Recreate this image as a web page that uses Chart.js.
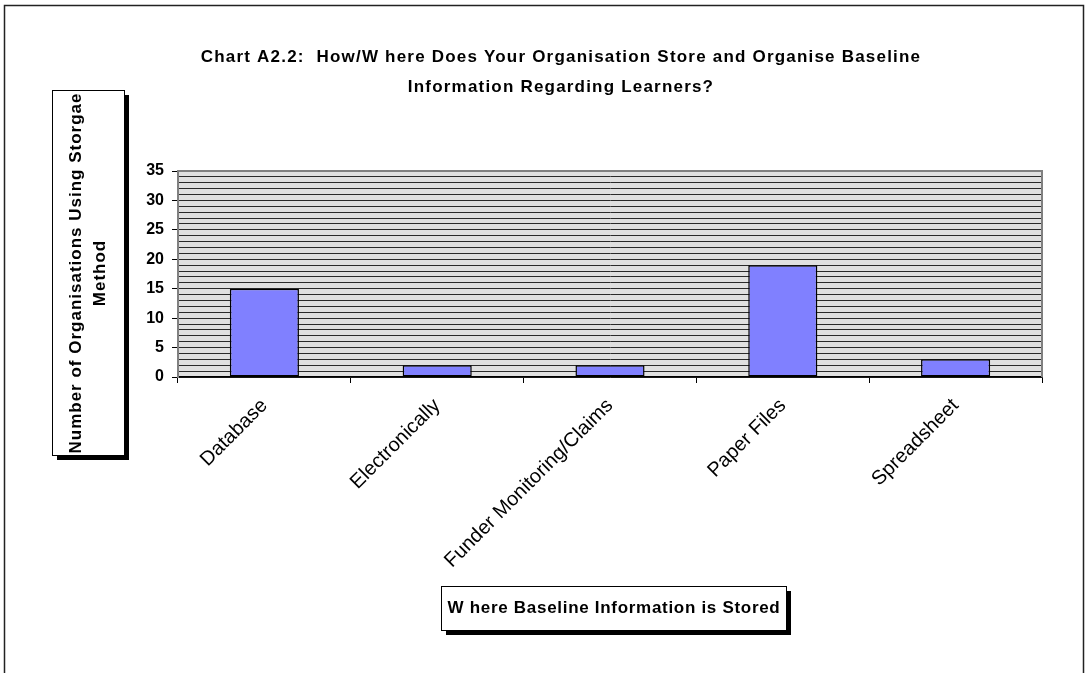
<!DOCTYPE html>
<html>
<head>
<meta charset="utf-8">
<script src="https://cdn.jsdelivr.net/npm/chart.js@4/dist/chart.umd.min.js"></script>
<style>
  body { margin: 0; background: #fff; }
  canvas { display: block; }
</style>
</head>
<body>
<canvas id="myChart" width="1086" height="673"></canvas>
<script>
var categories = ["Database", "Electronically", "Funder Monitoring/Claims", "Paper Files", "Spreadsheet"];
var counts = [15, 2, 2, 19, 3];
var yTicks = [0, 5, 10, 15, 20, 25, 30, 35];

var titleLines = ["Chart A2.2:  How/W here Does Your Organisation Store and Organise Baseline",
                  "Information Regarding Learners?"];
var yTitleLines = ["Number of Organisations Using Storgae", "Method"];
var xTitle = "W here Baseline Information is Stored";

var FONT = "Arial, 'Liberation Sans', sans-serif";

// box with a solid black drop shadow, like the old office charts
function shadowBox(ctx, x, y, w, h) {
  ctx.fillStyle = "#000";
  ctx.fillRect(x + 5, y + 5, w, h);
  ctx.fillStyle = "#fff";
  ctx.fillRect(x, y, w, h);
  ctx.strokeStyle = "#000";
  ctx.lineWidth = 1;
  ctx.strokeRect(x + 0.5, y + 0.5, w, h);
}

var decorations = {
  id: "decorations",
  beforeDraw: function(chart) {
    var ctx = chart.ctx, a = chart.chartArea;
    ctx.save();
    ctx.fillStyle = "#fff";
    ctx.fillRect(0, 0, chart.width, chart.height);
    ctx.fillStyle = "#e0e0e0";
    ctx.fillRect(a.left, a.top, a.right - a.left, a.bottom - a.top);
    ctx.restore();
  },
  afterDatasetsDraw: function(chart) {
    var ctx = chart.ctx, a = chart.chartArea;
    ctx.save();
    // grey frame on top and right of the plot
    ctx.strokeStyle = "#808080";
    ctx.lineWidth = 2;
    ctx.beginPath();
    ctx.moveTo(a.left, a.top);
    ctx.lineTo(a.right, a.top);
    ctx.lineTo(a.right, a.bottom);
    ctx.stroke();
    ctx.restore();
  },
  afterDraw: function(chart) {
    var ctx = chart.ctx;
    ctx.save();

    // outer frame
    ctx.strokeStyle = "#222";
    ctx.lineWidth = 1.5;
    ctx.beginPath();
    ctx.moveTo(4.5, chart.height);
    ctx.lineTo(4.5, 5.5);
    ctx.lineTo(1083.5, 5.5);
    ctx.lineTo(1083.5, chart.height);
    ctx.stroke();

    // chart title
    ctx.fillStyle = "#000";
    ctx.font = "bold 17px " + FONT;
    ctx.textAlign = "center";
    ctx.textBaseline = "middle";
    ctx.letterSpacing = "1.2px";
    ctx.fillText(titleLines[0], 561, 57);
    ctx.fillText(titleLines[1], 561, 87);

    // y axis title
    shadowBox(ctx, 52, 90, 72, 365);
    ctx.save();
    ctx.translate(88, 273);
    ctx.rotate(-Math.PI / 2);
    ctx.fillStyle = "#000";
    ctx.letterSpacing = "1px";
    ctx.fillText(yTitleLines[0], 0, -12);
    ctx.fillText(yTitleLines[1], 0, 12);
    ctx.restore();

    // x axis title
    shadowBox(ctx, 441, 586, 345, 44);
    ctx.fillStyle = "#000";
    ctx.letterSpacing = "0.7px";
    ctx.fillText(xTitle, 614, 608);

    ctx.restore();
  }
};

var ctx = document.getElementById("myChart").getContext("2d");
var myChart = new Chart(ctx, {
  type: "bar",
  data: {
    labels: categories,
    datasets: [{
      data: counts,
      backgroundColor: "#8080ff",
      borderColor: "#000",
      borderWidth: 1.5,
      borderSkipped: false,
      barPercentage: 0.4,
      categoryPercentage: 1
    }]
  },
  options: {
    responsive: false,
    animation: false,
    layout: { padding: { top: 171, right: 44, left: 0, bottom: 0 } },
    plugins: {
      legend: { display: false },
      title: { display: false },
      tooltip: { enabled: false }
    },
    scales: {
      x: {
        afterFit: function(scale) { scale.height = 296; },
        grid: {
          offset: true,
          drawOnChartArea: false,
          tickLength: 6,
          color: "#000"
        },
        border: { color: "#000", width: 1.5 },
        ticks: {
          minRotation: 45,
          maxRotation: 45,
          padding: 11,
          color: "#000",
          font: { family: FONT, size: 20 }
        }
      },
      y: {
        min: yTicks[0],
        max: yTicks[yTicks.length - 1],
        afterFit: function(scale) { scale.width = 178; },
        grid: {
          color: "#2a2a2a",
          lineWidth: 1,
          tickLength: 6,
          tickColor: function(c) {
            return c.tick && yTicks.indexOf(c.tick.value) >= 0 ? "#000" : "rgba(0,0,0,0)";
          }
        },
        border: { color: "#808080", width: 2 },
        ticks: {
          stepSize: 1,
          autoSkip: false,
          padding: 8,
          color: "#000",
          font: { family: FONT, size: 16, weight: "bold" },
          callback: function(v) { return yTicks.indexOf(v) >= 0 ? v : ""; }
        }
      }
    }
  },
  plugins: [decorations]
});
</script>
</body>
</html>
